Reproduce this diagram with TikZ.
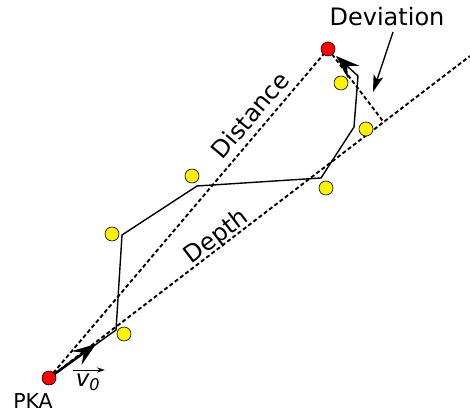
\documentclass[tikz,border=0pt]{standalone}
\usepackage{fontspec}
\setmainfont{DejaVu Sans}
\usetikzlibrary{arrows.meta}
\begin{document}
\begin{tikzpicture}[x=1pt,y=-1pt,
  dot/.style={circle,draw=black,line width=0.6pt,minimum size=14pt,inner sep=0pt},
  ion/.style={dot,fill=yellow},
  atom/.style={dot,fill=red},
  dashline/.style={dash pattern=on 4pt off 2.6pt,line width=1.9pt},
  traj/.style={line width=1.4pt},
  bigtip/.style={-{Stealth[length=24pt,width=17pt,inset=9pt]}},
  lbl/.style={font=\fontsize{24}{28}\selectfont,inner sep=0pt}]
\useasboundingbox (0,0) rectangle (470,419);
% key points
\coordinate (pka) at (49,378);
\coordinate (endp) at (328,49);
\coordinate (foot) at (384,122.5);
\coordinate (far) at (470,56);
\coordinate (c1) at (116,330);
\coordinate (c2) at (122,235);
\coordinate (c3) at (197,186);
\coordinate (c4) at (321,178);
\coordinate (c5) at (354,127);
\coordinate (c6) at (358,76);
\coordinate (tip) at (336,56);
\coordinate (v0tip) at (96,344);
\coordinate (devfrom) at (393,32);
\coordinate (devto) at (373,92);
\coordinate (vfrom) at (73,370);
\coordinate (vto) at (105,370);
% dashed lines
\draw[dashline] (pka) -- (endp);
\draw[dashline] (pka) -- (far);
\draw[dashline] (endp) -- (foot);
% trajectory
\draw[traj,bigtip] (pka) -- (c1) -- (c2) -- (c3) -- (c4) -- (c5) -- (c6) -- (tip);
\draw[line width=2.4pt,bigtip] (pka) -- (v0tip);
% dots
\node[ion] (y1) at (124,334) {};
\node[ion] (y2) at (112,234) {};
\node[ion] (y3) at (192,176) {};
\node[ion] (y4) at (326,188) {};
\node[ion] (y5) at (341,83) {};
\node[ion] (y6) at (366,129) {};
\node[atom] (start) at (pka) {};
\node[atom] (stop) at (endp) {};
% labels
\node[lbl,rotate=49.7] (dist) at (250,115) {Distance};
\node[lbl,rotate=37.3] (depth) at (217,237) {Depth};
\node[lbl] (dev) at (387,17) {Deviation};
\draw[line width=1.4pt,-{Stealth[length=17pt,width=10pt,inset=4pt]}] (devfrom) -- (devto);
\node[font=\fontsize{20.5}{24}\selectfont,inner sep=0pt] (pkalbl) at (33,401) {PKA};
\node[font=\fontsize{23}{26}\selectfont\itshape,inner sep=0pt] (v0) at (88,382) {v\textsubscript{0}};
\draw[line width=0.9pt,-{Stealth[length=8pt,width=5pt]}] (vfrom) -- (vto);
\end{tikzpicture}
\end{document}
